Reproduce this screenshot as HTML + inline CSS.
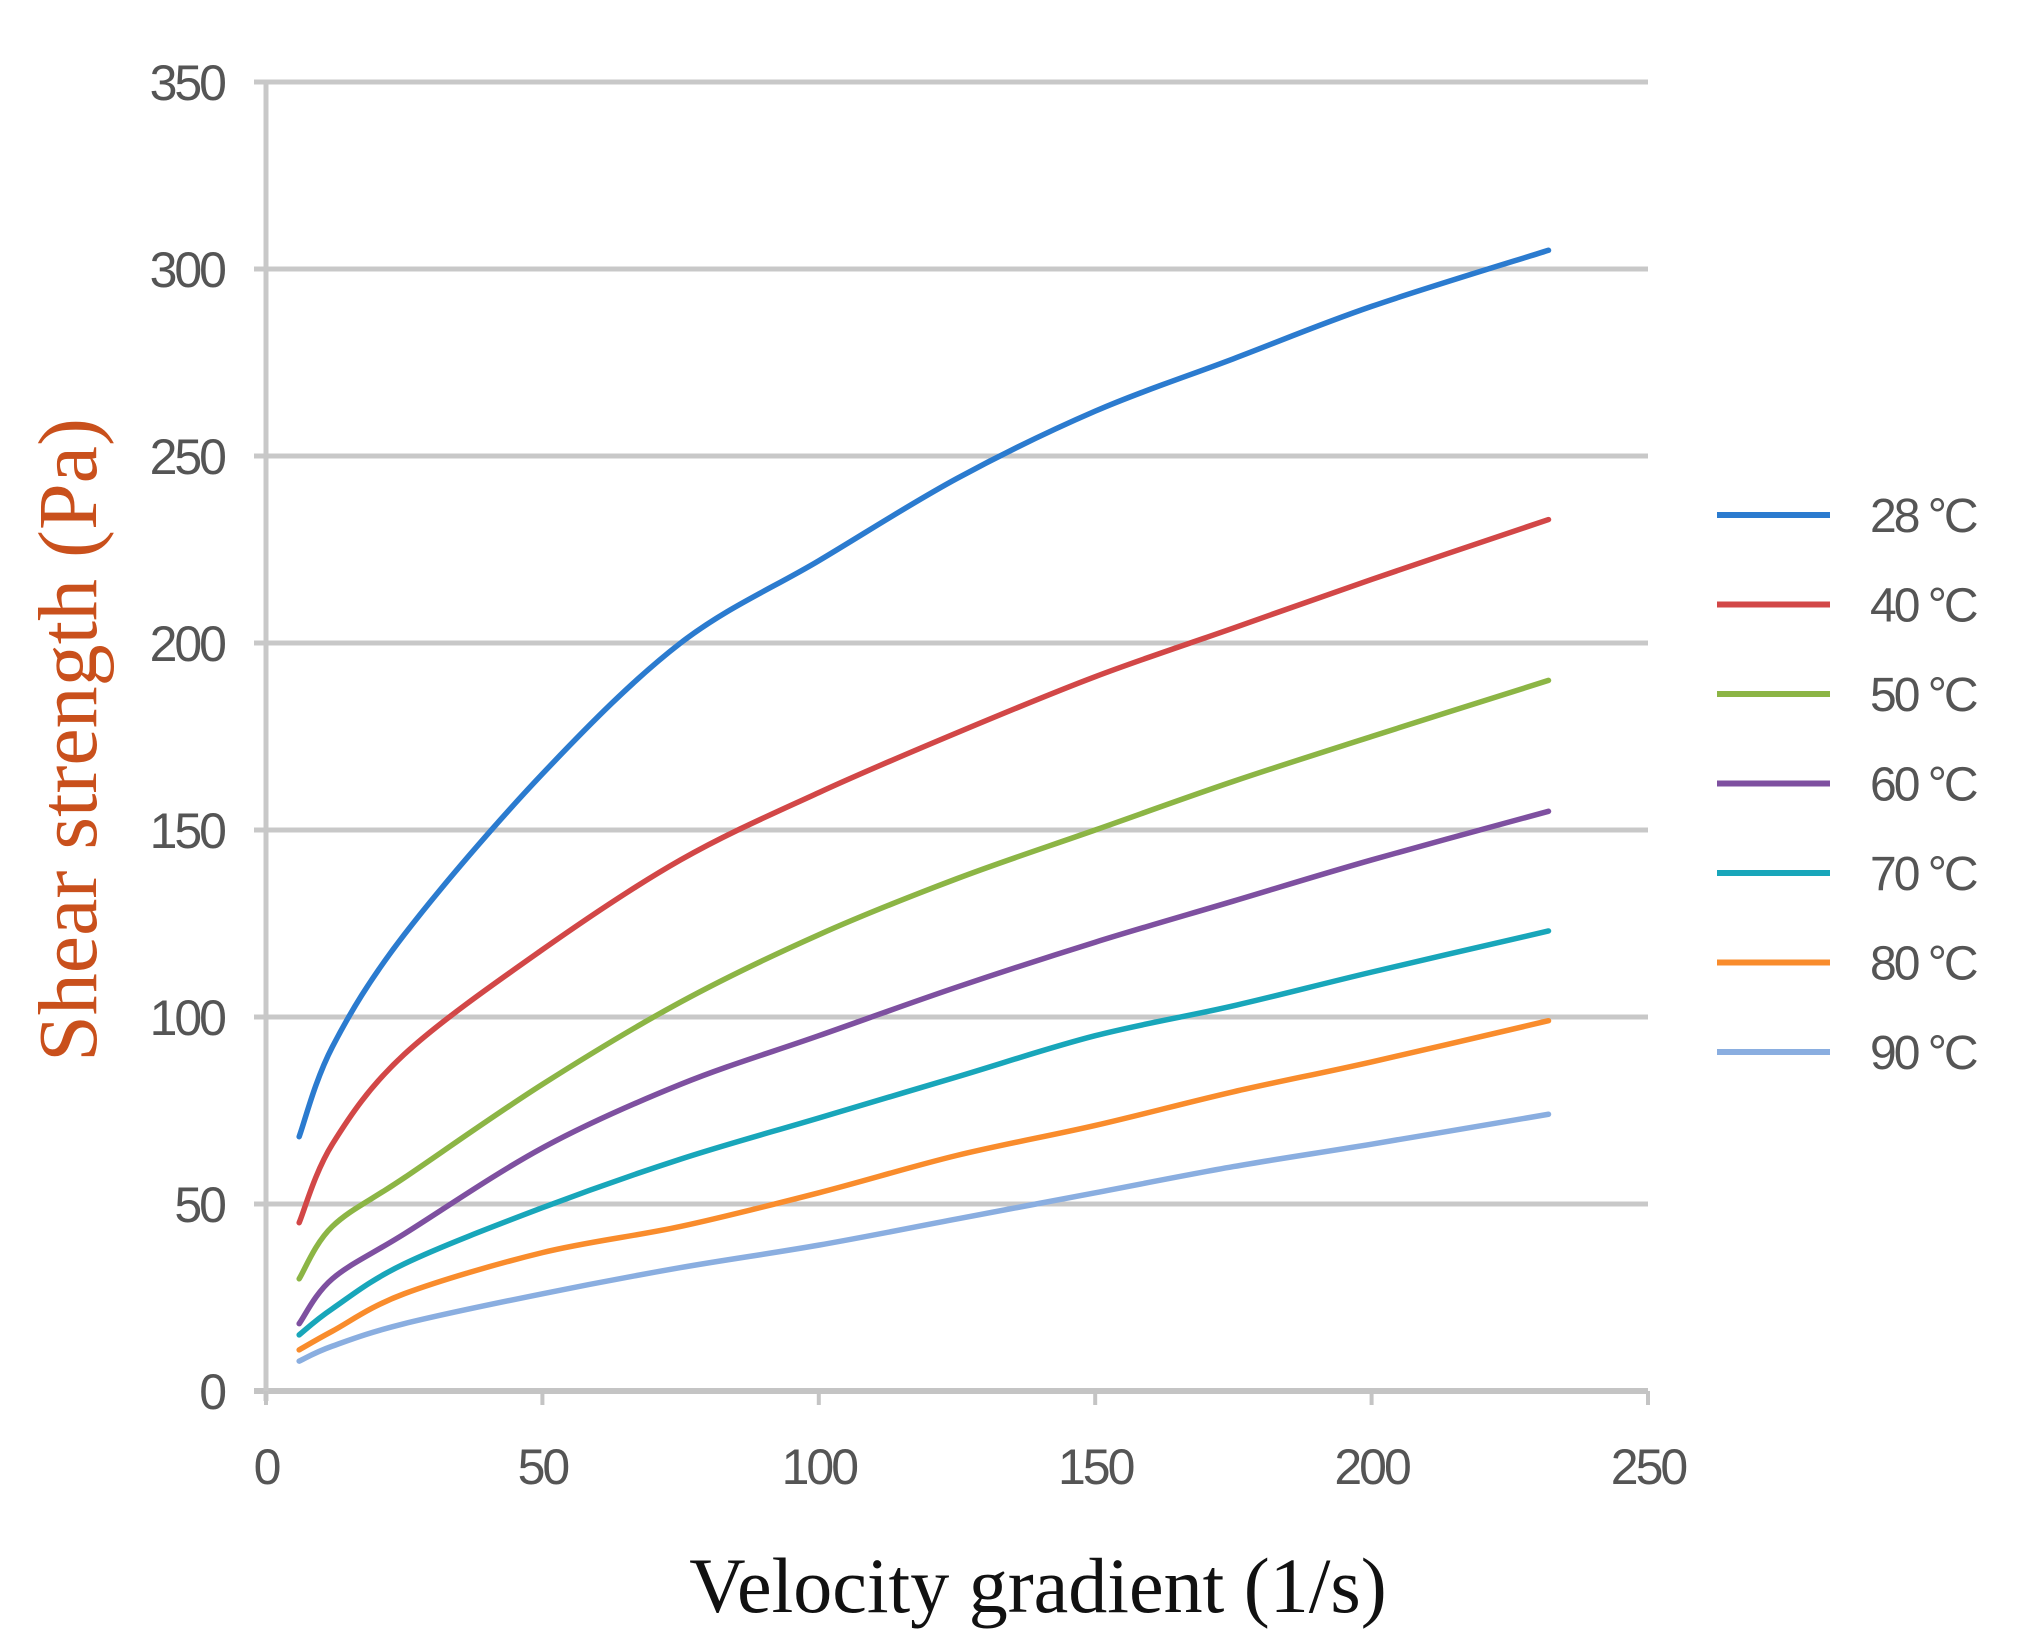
<!DOCTYPE html>
<html><head><meta charset="utf-8"><style>
html,body{margin:0;padding:0;background:#fff;}
svg{display:block;}
</style></head><body>
<svg id="chart" width="2035" height="1648" viewBox="0 0 2035 1648" xmlns="http://www.w3.org/2000/svg">
<g id="grid"></g>
<g id="axes"></g>
<g id="series"></g>
<g id="legend"></g>
<text x="1038" y="1612" font-family="Liberation Serif, serif" font-size="78" fill="#111" text-anchor="middle">Velocity gradient (1/s)</text>
<text transform="translate(96,740) rotate(-90)" font-family="Liberation Serif, serif" font-size="84" fill="#c9501c" text-anchor="middle">Shear strength (Pa)</text>
</svg>
<script>
const xs = [6, 12, 25, 50, 75, 100, 125, 150, 175, 200, 232];
const s28 = [68, 92, 122, 165, 200, 222, 244, 262, 276, 290, 305];
const s40 = [45, 66, 90, 118, 142, 160, 176, 191, 204, 217, 233];
const s50 = [30, 44, 57, 82, 104, 122, 137, 150, 163, 175, 190];
const s60 = [18, 30, 42, 65, 82, 95, 108, 120, 131, 142, 155];
const s70 = [15, 22, 34, 49, 62, 73, 84, 95, 103, 112, 123];
const s80 = [11, 16, 26, 37, 44, 53, 63, 71, 80, 88, 99];
const s90 = [8, 12, 18, 26, 33, 39, 46, 53, 60, 66, 74];
const seriesNames = ["28 °C","40 °C","50 °C","60 °C","70 °C","80 °C","90 °C"];
const seriesColors = ["#2b7bcf","#d24747","#8cb545","#7e50a0","#18a6ba","#f98c2c","#8aaee0"];
const xTicks = [0,50,100,150,200,250];
const yTicks = [0,50,100,150,200,250,300,350];
const allSeries = [s28,s40,s50,s60,s70,s80,s90];

const X0=266, X1=1648, Y0=1391, Y1=82;
const xScale = v => X0 + v/250*(X1-X0);
const yScale = v => Y0 - v/350*(Y0-Y1);
const NS="http://www.w3.org/2000/svg";
function mk(tag, attrs, parent){const e=document.createElementNS(NS,tag);for(const k in attrs)e.setAttribute(k,attrs[k]);parent.appendChild(e);return e;}
const grid=document.getElementById('grid'), axes=document.getElementById('axes'), ser=document.getElementById('series'), leg=document.getElementById('legend');

yTicks.forEach(t=>{
  if(t>0){const l=mk('line',{x1:X0-12,x2:X1,y1:yScale(t),y2:yScale(t),stroke:'#c8c8c8','stroke-width':5},grid);
  
  }
  const tx=mk('text',{x:224,y:yScale(t)+18,'text-anchor':'end','font-family':'Liberation Sans, sans-serif','font-size':50,fill:'#555','letter-spacing':'-3'},axes);
  tx.textContent=t;
  
  
});
const ax=mk('line',{x1:X0-12,x2:X1,y1:Y0,y2:Y0,stroke:'#c4c4c4','stroke-width':6},axes);


const ay=mk('line',{x1:X0,x2:X0,y1:Y1,y2:Y0+10,stroke:'#c8c8c8','stroke-width':5},axes);


xTicks.forEach(t=>{
  const tk=mk('line',{x1:xScale(t),x2:xScale(t),y1:Y0,y2:Y0+14,stroke:'#c4c4c4','stroke-width':4},axes);
  
  
  const tx=mk('text',{x:xScale(t),y:1484,'text-anchor':'middle','font-family':'Liberation Sans, sans-serif','font-size':50,fill:'#555','letter-spacing':'-3'},axes);
  tx.textContent=t;
  
  
});

function smoothPath(pts){
  let d='M'+pts[0][0]+','+pts[0][1];
  for(let i=0;i<pts.length-1;i++){
    const p0=pts[i-1]||pts[i],p1=pts[i],p2=pts[i+1],p3=pts[i+2]||p2;
    const c1=[p1[0]+(p2[0]-p0[0])/6,p1[1]+(p2[1]-p0[1])/6];
    const c2=[p2[0]-(p3[0]-p1[0])/6,p2[1]-(p3[1]-p1[1])/6];
    d+=' C'+c1[0]+','+c1[1]+' '+c2[0]+','+c2[1]+' '+p2[0]+','+p2[1];
  }
  return d;
}
allSeries.forEach((s,i)=>{
  const pts=s.map((v,j)=>[xScale(xs[j]),yScale(v)]);
  const p=mk('path',{d:smoothPath(pts),fill:'none',stroke:seriesColors[i],'stroke-width':5.5,'stroke-linecap':'round'},ser);
  
  
  const ly=515+i*89.5;
  const g=mk('g',{},leg);
  
  
  mk('line',{x1:1717,x2:1830,y1:ly,y2:ly,stroke:seriesColors[i],'stroke-width':6},g);
  const t=mk('text',{x:1870,y:ly+17,'font-family':'Liberation Sans, sans-serif','font-size':48,fill:'#555','letter-spacing':'-3'},g);
  t.textContent=seriesNames[i];
});
</script>
</body></html>
